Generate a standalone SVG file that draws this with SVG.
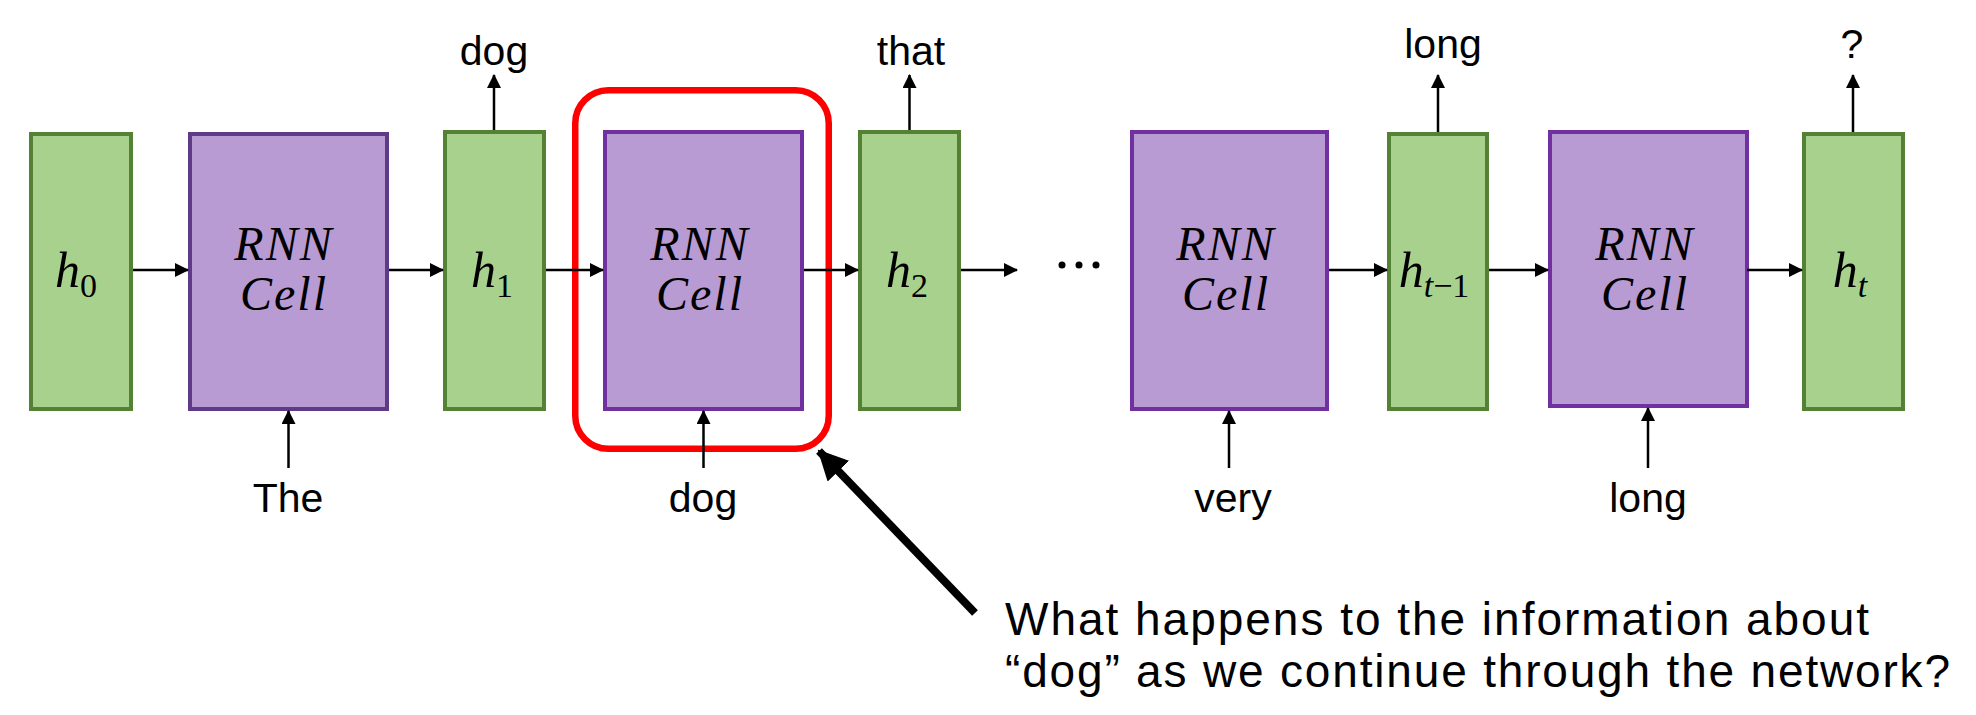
<svg xmlns="http://www.w3.org/2000/svg" width="1976" height="715" viewBox="0 0 1976 715">
<defs>
<marker id="ah" viewBox="0 0 14 14" refX="13" refY="7" markerWidth="14" markerHeight="14" markerUnits="userSpaceOnUse" orient="auto">
<path d="M0,0 L14,7 L0,14 z" fill="#000"/>
</marker>
<marker id="bigah" viewBox="0 0 30 30" refX="28" refY="15" markerWidth="30" markerHeight="30" markerUnits="userSpaceOnUse" orient="auto">
<path d="M0,0 L30,15 L0,30 z" fill="#000"/>
</marker>
</defs>
<style>
.h{fill:#A9D18E;stroke:#548235;stroke-width:4}
.c{fill:#B99BD4;stroke:#7030A0;stroke-width:4}
.m{font-family:"Liberation Serif",serif;font-style:italic;font-size:48px;letter-spacing:2px;fill:#000;text-anchor:middle}
.hs{font-family:"Liberation Serif",serif;font-style:italic;font-size:50px;fill:#000;text-anchor:middle}
.sub{font-size:34px}
.up{font-style:normal}
.lbl{font-family:"Liberation Sans",sans-serif;font-size:41px;fill:#000;text-anchor:middle}
.q{font-family:"Liberation Sans",sans-serif;font-size:46px;fill:#000}
.a{stroke:#000;stroke-width:2.5;fill:none;marker-end:url(#ah)}
</style>
<rect width="1976" height="715" fill="#fff"/>
<g id="h0"><rect class="h" x="31" y="134" width="100" height="275"/><text class="hs" x="76" y="287">h<tspan class="sub up" dy="10">0</tspan></text></g>
<g id="cell1"><rect class="c" x="190" y="134" width="197" height="275" style="stroke:#5E3A87"/><text class="m" x="284" y="260">RNN</text><text class="m" x="284" y="310">Cell</text></g>
<g id="h1"><rect class="h" x="445" y="132" width="99" height="277"/><text class="hs" x="492" y="287">h<tspan class="sub up" dy="10">1</tspan></text></g>
<g id="cell2"><rect class="c" x="605" y="132" width="197" height="277"/><text class="m" x="700" y="260">RNN</text><text class="m" x="700" y="310">Cell</text></g>
<g id="h2"><rect class="h" x="860" y="132" width="99" height="277"/><text class="hs" x="907" y="287">h<tspan class="sub up" dy="10">2</tspan></text></g>
<g id="cell3"><rect class="c" x="1132" y="132" width="195" height="277"/><text class="m" x="1226" y="260">RNN</text><text class="m" x="1226" y="310">Cell</text></g>
<g id="ht1"><rect class="h" x="1389" y="134" width="98" height="275"/><text class="hs" x="1434" y="287">h<tspan class="sub" dy="10">t</tspan><tspan class="sub up">−1</tspan></text></g>
<g id="cell4"><rect class="c" x="1550" y="132" width="197" height="274"/><text class="m" x="1645" y="260">RNN</text><text class="m" x="1645" y="310">Cell</text></g>
<g id="ht"><rect class="h" x="1804" y="134" width="99" height="275"/><text class="hs" x="1850" y="287">h<tspan class="sub" dy="10">t</tspan></text></g>
<g id="highlight"><rect x="575.25" y="90.25" width="253.5" height="358.5" rx="33" fill="none" stroke="#FF0000" stroke-width="6.5"/></g>
<g id="connectors">
<line class="a" x1="133" y1="270" x2="188" y2="270"/>
<line class="a" x1="389" y1="270" x2="443" y2="270"/>
<line class="a" x1="546" y1="270" x2="603" y2="270"/>
<line class="a" x1="804" y1="270" x2="858" y2="270"/>
<line class="a" x1="961" y1="270" x2="1017" y2="270"/>
<line class="a" x1="1329" y1="270" x2="1387" y2="270"/>
<line class="a" x1="1489" y1="270" x2="1548" y2="270"/>
<line class="a" x1="1747" y1="270" x2="1802" y2="270"/>
<line class="a" x1="494" y1="130" x2="494" y2="75"/>
<line class="a" x1="909.5" y1="130" x2="909.5" y2="75"/>
<line class="a" x1="1438" y1="132" x2="1438" y2="75"/>
<line class="a" x1="1853" y1="132" x2="1853" y2="75"/>
<line class="a" x1="288.5" y1="468" x2="288.5" y2="411"/>
<line class="a" x1="703.5" y1="468" x2="703.5" y2="411"/>
<line class="a" x1="1229" y1="468" x2="1229" y2="411"/>
<line class="a" x1="1648" y1="468" x2="1648" y2="408"/>
<line x1="975" y1="613" x2="819" y2="451" stroke="#000" stroke-width="8" marker-end="url(#bigah)"/>
</g>
<g id="dots" fill="#000"><circle cx="1062" cy="265" r="3.5"/><circle cx="1079" cy="265" r="3.5"/><circle cx="1096" cy="265" r="3.5"/></g>
<g id="labels">
<text class="lbl" x="494" y="65">dog</text>
<text class="lbl" x="911" y="65">that</text>
<text class="lbl" x="1443" y="58">long</text>
<text class="lbl" x="1852" y="58">?</text>
<text class="lbl" x="288" y="512">The</text>
<text class="lbl" x="703" y="512">dog</text>
<text class="lbl" x="1233" y="512">very</text>
<text class="lbl" x="1648" y="512">long</text>
<text class="q"><tspan x="1005" y="635" textLength="864" lengthAdjust="spacing">What happens to the information about</tspan><tspan x="1005" y="687" textLength="945" lengthAdjust="spacing">“dog” as we continue through the network?</tspan></text>
</g>
</svg>
